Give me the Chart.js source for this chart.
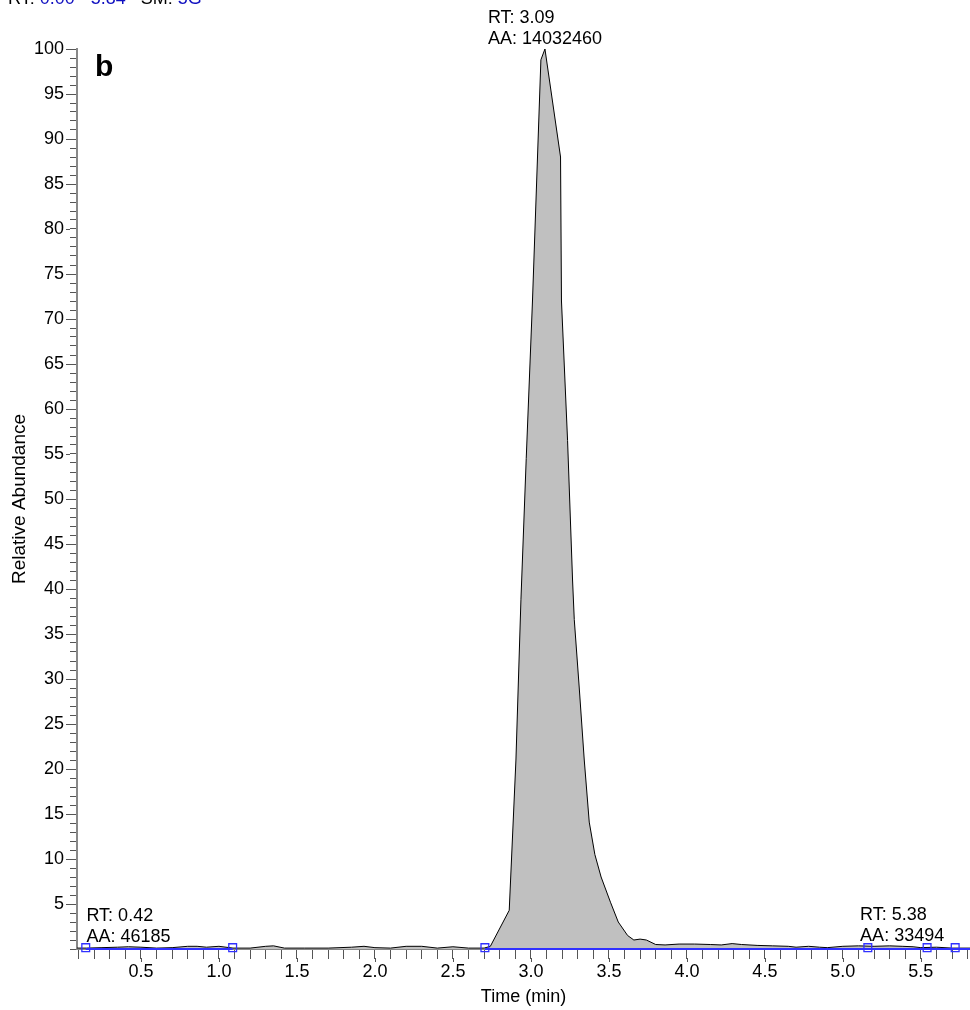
<!DOCTYPE html>
<html>
<head>
<meta charset="utf-8">
<script src="https://cdn.jsdelivr.net/npm/chart.js@4.4.0/dist/chart.umd.min.js"></script>
<style>
  body { margin: 0; background: #fff; }
  canvas { display: block; }
</style>
</head>
<body>
<canvas id="chrom" width="970" height="1010"></canvas>
<script>
// chromatogram trace (time in min, relative abundance in %)
let times = [0.09, 0.15, 0.25, 0.35, 0.42, 0.50, 0.60, 0.70, 0.80, 0.86, 0.92, 1.00, 1.09, 1.20, 1.30, 1.35, 1.42, 1.55, 1.70, 1.85, 1.93, 2.00, 2.10, 2.20, 2.30, 2.40, 2.50, 2.60, 2.70,
    2.74, 2.861, 2.904, 2.936, 2.97, 3.01, 3.064, 3.09, 3.19, 3.196, 3.235, 3.267, 3.278, 3.31, 3.342, 3.374, 3.41, 3.45, 3.51, 3.56, 3.62, 3.66, 3.70, 3.74, 3.80,
    3.86, 3.95, 4.05, 4.15, 4.22, 4.29, 4.35, 4.45, 4.55, 4.65, 4.70, 4.78, 4.85, 4.90, 5.00, 5.10, 5.20, 5.30, 5.38, 5.45, 5.50, 5.60, 5.70, 5.815];
let abundance = [0.1, 0.1, 0.15, 0.2, 0.25, 0.2, 0.1, 0.15, 0.3, 0.3, 0.2, 0.3, 0.1, 0.1, 0.3, 0.35, 0.1, 0.1, 0.1, 0.2, 0.3, 0.15, 0.1, 0.3, 0.3, 0.1, 0.25, 0.1, 0.1,
    0.3, 4.3, 21, 38.8, 54.5, 72, 98.8, 100, 88, 72, 56.5, 41, 36.6, 29, 21, 14.1, 10.5, 8, 5.2, 3, 1.5, 1.0, 1.1, 1.0, 0.5,
    0.45, 0.55, 0.55, 0.5, 0.45, 0.6, 0.5, 0.4, 0.35, 0.3, 0.2, 0.3, 0.2, 0.15, 0.3, 0.35, 0.3, 0.35, 0.3, 0.25, 0.15, 0.2, 0.1, 0.1];

// integration markers and baselines
let markerTimes = [0.146, 1.088, 2.705, 5.16, 5.54, 5.72];
let baseStart = [0.146, 2.705];
let baseEnd = [1.088, 5.815];

// peak labels
let peakRT = [0.42, 3.09, 5.38];
let peakAA = ['46185', '14032460', '33494'];

let xMin = 0.09, xMax = 5.815;
let fontFam = '"Liberation Sans", Arial, Helvetica, sans-serif';

Chart.defaults.font.family = fontFam;
Chart.defaults.color = '#000';

let trace = times.map(function (t, i) { return { x: t, y: abundance[i] }; });
let markers = markerTimes.map(function (t) { return { x: t, y: 0.15 }; });
let baseLine = [];
baseStart.forEach(function (s, i) {
    if (i > 0) baseLine.push({ x: (baseEnd[i - 1] + s) / 2, y: null });
    baseLine.push({ x: s, y: 0 });
    baseLine.push({ x: baseEnd[i], y: 0 });
});

function valueAt(t) {
    for (let i = 1; i < times.length; i++) {
        if (times[i] >= t) {
            let f = (t - times[i - 1]) / (times[i] - times[i - 1]);
            return abundance[i - 1] + f * (abundance[i] - abundance[i - 1]);
        }
    }
    return 0;
}

let labelPlugin = {
    id: 'labels',
    afterDatasetsDraw: function (chart) {
        let ctx = chart.ctx;
        let xs = chart.scales.x, ys = chart.scales.y;
        ctx.save();
        ctx.font = '18px ' + fontFam;
        ctx.fillStyle = '#000';
        ctx.textAlign = 'left';
        ctx.textBaseline = 'alphabetic';
        peakRT.forEach(function (rt, i) {
            let l1 = 'RT: ' + rt.toFixed(2), l2 = 'AA: ' + peakAA[i];
            let w = Math.max(ctx.measureText(l1).width, ctx.measureText(l2).width);
            let px = xs.getPixelForValue(rt) - w / 2;
            let py = ys.getPixelForValue(valueAt(rt)) - 5;
            ctx.fillText(l1, px, py - 21);
            ctx.fillText(l2, px, py);
        });
        // panel letter
        ctx.font = 'bold 30px ' + fontFam;
        ctx.fillText('b', chart.chartArea.left + 18, chart.chartArea.top + 27);
        // header line (cut off at top)
        ctx.font = '18px ' + fontFam;
        let parts = [['RT: ', '#000'], ['0.00', '#1010c0'], [' - ', '#000'], ['5.84', '#1010c0'], ['   SM: ', '#000'], ['5G', '#1010c0']];
        let hx = 8;
        parts.forEach(function (p) {
            ctx.fillStyle = p[1];
            ctx.fillText(p[0], hx, 4);
            hx += ctx.measureText(p[0]).width;
        });
        ctx.restore();
    },
    afterDraw: function (chart) {
        // longer major ticks
        let ctx = chart.ctx;
        let xs = chart.scales.x, ys = chart.scales.y;
        ctx.save();
        ctx.strokeStyle = '#555';
        ctx.lineWidth = 1;
        ctx.beginPath();
        xs.ticks.forEach(function (tk) {
            if (Math.abs(tk.value * 2 - Math.round(tk.value * 2)) < 1e-6) {
                let px = Math.round(xs.getPixelForValue(tk.value)) + 0.5;
                ctx.moveTo(px, ys.bottom + 9);
                ctx.lineTo(px, ys.bottom + 13);
            }
        });
        ys.ticks.forEach(function (tk) {
            if (tk.value % 5 === 0 && tk.value !== 0) {
                let py = Math.round(ys.getPixelForValue(tk.value)) + 0.5;
                ctx.moveTo(xs.left - 7, py);
                ctx.lineTo(xs.left - 11, py);
            }
        });
        ctx.stroke();
        ctx.restore();
    }
};

new Chart(document.getElementById('chrom').getContext('2d'), {
    type: 'line',
    data: {
        datasets: [{
            data: markers,
            showLine: false,
            pointStyle: 'rect',
            pointRadius: 5.5,
            pointBorderColor: '#3030ff',
            pointBackgroundColor: 'rgba(0,0,0,0)',
            pointBorderWidth: 1.3,
            clip: false
        }, {
            data: baseLine,
            borderColor: '#3030ff',
            borderWidth: 2,
            pointRadius: 0,
            spanGaps: false,
            clip: false
        }, {
            data: trace,
            borderColor: '#000',
            borderWidth: 1,
            backgroundColor: '#c0c0c0',
            fill: 'origin',
            pointRadius: 0,
            tension: 0
        }]
    },
    options: {
        responsive: false,
        animation: false,
        layout: { autoPadding: false, padding: { top: 49, right: 0, left: 0, bottom: 0 } },
        plugins: {
            legend: { display: false },
            tooltip: { enabled: false }
        },
        scales: {
            x: {
                type: 'linear',
                min: xMin,
                max: xMax,
                afterFit: function (scale) {
                    scale.height = 61;
                    scale.paddingLeft = 0;
                    scale.paddingRight = 0;
                },
                border: { display: true, color: '#888', width: 2 },
                grid: { display: true, drawOnChartArea: false, drawTicks: true, tickLength: 10, color: '#555' },
                ticks: {
                    stepSize: 0.1,
                    includeBounds: false,
                    autoSkip: false,
                    maxRotation: 0,
                    padding: 2,
                    font: { size: 18 },
                    callback: function (v) {
                        return Math.abs(v * 2 - Math.round(v * 2)) < 1e-6 ? v.toFixed(1) : '';
                    }
                },
                title: { display: true, text: 'Time (min)', font: { size: 18 }, padding: { top: 0, bottom: 2 } }
            },
            y: {
                min: 0,
                max: 100,
                afterFit: function (scale) {
                    scale.width = 77;
                    scale.paddingTop = 0;
                    scale.paddingBottom = 0;
                },
                border: { display: true, color: '#888', width: 2 },
                grid: { display: true, drawOnChartArea: false, drawTicks: true, tickLength: 7, color: '#555' },
                ticks: {
                    stepSize: 1,
                    autoSkip: false,
                    padding: 6,
                    font: { size: 18 },
                    callback: function (v) {
                        return (v % 5 === 0 && v !== 0) ? String(v) : '';
                    }
                },
                title: { display: true, text: 'Relative Abundance', font: { size: 19 }, padding: { top: 8, bottom: 0 } }
            }
        }
    },
    plugins: [labelPlugin]
});
</script>
</body>
</html>
